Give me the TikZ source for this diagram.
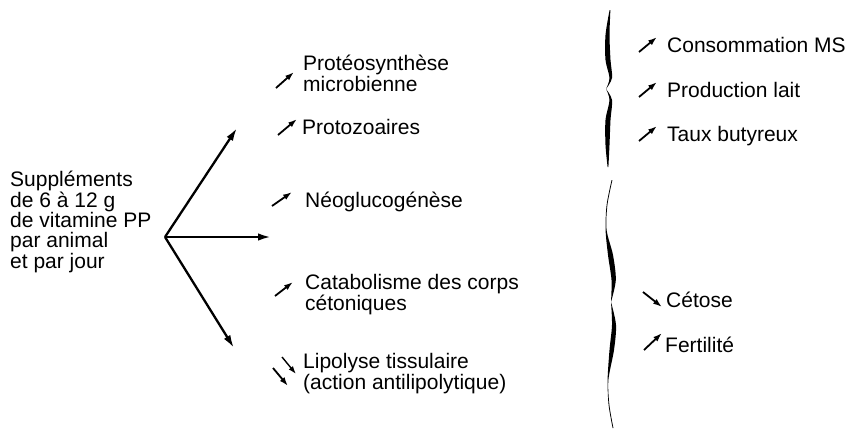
\documentclass[tikz,border=0pt]{standalone}
\usepackage{fontspec}
\setmainfont{Liberation Sans}
\usetikzlibrary{arrows.meta}
\begin{document}
\begin{tikzpicture}[x=1pt,y=-1pt,
  lbl/.style={anchor=base west,inner sep=0pt,align=left,font=\fontsize{21}{21}\selectfont},
  bigarrow/.style={line width=2.3pt,-{Latex[length=13pt,width=7.5pt]}},
  upar/.style={line width=1.8pt,-{Latex[length=9pt,width=6pt]}},
  thinar/.style={line width=1.4pt,-{Latex[length=8pt,width=5.5pt]}}]
\useasboundingbox (0,0) rectangle (849,429);
% left text (anchor = baseline of last line)
\node[lbl,font=\fontsize{21}{20.3}\selectfont] (src) at (10,268) {Suppléments\\de 6 à 12 g\\de vitamine PP\\par animal\\et par jour};
% big arrows
\coordinate (o) at (165,237);
\coordinate (t1) at (237,128);
\coordinate (t2) at (271,237);
\coordinate (t3) at (234,348);
\draw[bigarrow] (o) -- (t1);
\draw[bigarrow] (o) -- (t2);
\draw[bigarrow] (o) -- (t3);
% middle column
\node[lbl] (prot) at (303,91) {Protéosynthèse\\microbienne};
\node[lbl] (proz) at (302,134) {Protozoaires};
\node[lbl] (neo) at (305,207) {Néoglucogénèse};
\node[lbl] (cat) at (305,310) {Catabolisme des corps\\cétoniques};
\node[lbl] (lip) at (303,389) {Lipolyse tissulaire\\(action antilipolytique)};
\draw[upar] ([shift={(-27,-3)}]prot.base west) -- ++(18,-16);
\draw[upar] ([shift={(-24,1)}]proz.base west) -- ++(19,-16);
\draw[upar] ([shift={(-33,-1)}]neo.base west) -- ++(20,-14);
\draw[upar] ([shift={(-30,-14)}]cat.base west) -- ++(18,-14);
\draw[thinar] ([shift={(-21,-32)}]lip.base west) -- ++(14,17);
\draw[upar] ([shift={(-30,-21)}]lip.base west) -- ++(15,18);
% right column
\node[lbl] (cons) at (667,52) {Consommation MS};
\node[lbl] (prod) at (667,97) {Production lait};
\node[lbl] (taux) at (667,141) {Taux butyreux};
\node[lbl] (ceto) at (666,307) {Cétose};
\node[lbl] (fert) at (665,352) {Fertilité};
\draw[upar] ([shift={(-28,0)}]cons.base west) -- ++(18,-15);
\draw[upar] ([shift={(-28,0)}]prod.base west) -- ++(18,-15);
\draw[upar] ([shift={(-28,0)}]taux.base west) -- ++(18,-15);
\draw[upar] ([shift={(-23,-15)}]ceto.base west) -- ++(19,15);
\draw[upar] ([shift={(-21,-2)}]fert.base west) -- ++(18,-17);
% braces
\fill plot[smooth] coordinates {(609.6,10) (605.5,35) (605.5,60) (609.5,78) (606,89)}
  -- plot[smooth] coordinates {(606,89) (612,78) (610.5,60) (609.5,35) (610.4,10)} -- cycle;
\fill plot[smooth] coordinates {(606,89) (609.5,100) (605.5,120) (605.5,145) (607.6,167)}
  -- plot[smooth] coordinates {(608.4,167) (609.5,145) (610.5,120) (612,100) (606,89)} -- cycle;
\fill plot[smooth] coordinates {(611.6,180) (606.6,205) (605.6,230) (608,255) (611.5,280) (611,302)}
  -- plot[smooth] coordinates {(611,302) (615.8,280) (613,255) (606.6,230) (607.4,205) (612.4,180)} -- cycle;
\fill plot[smooth] coordinates {(611,302) (612,325) (609.5,350) (607.6,380) (608.6,405) (612.6,428)}
  -- plot[smooth] coordinates {(613.4,428) (609.4,405) (608.4,380) (614,350) (616,325) (611,302)} -- cycle;
\end{tikzpicture}
\end{document}
